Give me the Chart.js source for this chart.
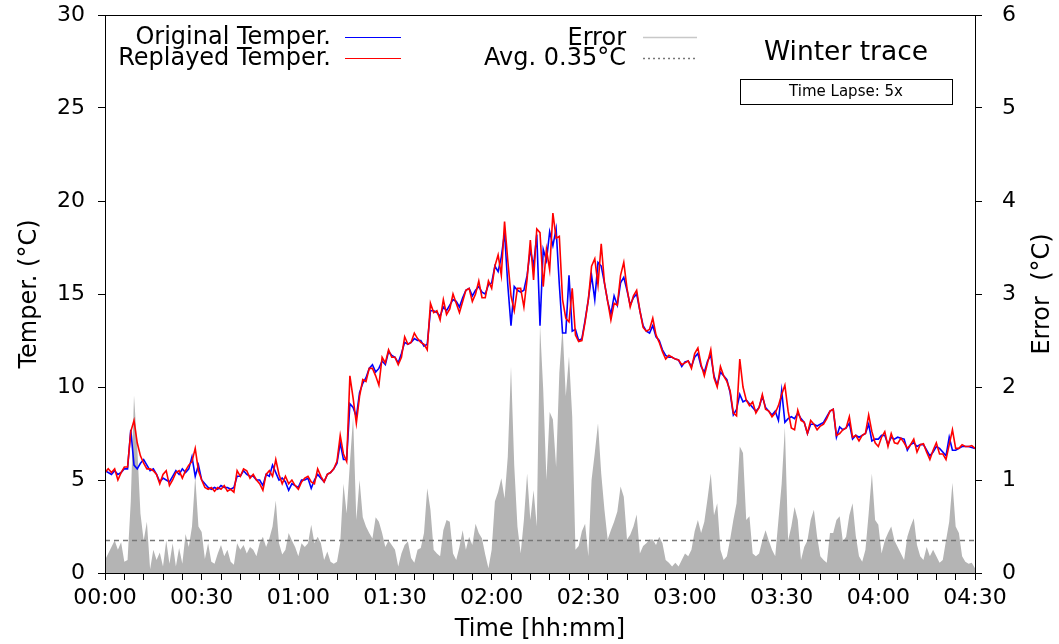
<!DOCTYPE html>
<html>
<head>
<meta charset="utf-8">
<script src="https://cdn.jsdelivr.net/npm/chart.js@4.4.1/dist/chart.umd.min.js"></script>
<style>
  html, body { margin: 0; padding: 0; background: #fff; }
  #chart { display: block; }
</style>
</head>
<body>
<canvas id="chart" width="1059" height="644"></canvas>
<script>
// temperatures, one value per minute from 00:00 to 04:30
const tempStepMin = 1;
const originalTemp = [
    5.5, 5.4, 5.3, 5.5, 5.3, 5.4, 5.6, 5.6, 7.7, 5.8,
    5.6, 5.9, 6.1, 5.8, 5.5, 5.6, 5.3, 4.9, 5.1, 5.0,
    4.9, 5.2, 5.5, 5.3, 5.6, 5.4, 5.6, 6.25, 5.2, 5.8,
    5.0, 4.8, 4.6, 4.5, 4.6, 4.5, 4.7, 4.6, 4.6, 4.5,
    4.6, 5.2, 5.2, 5.5, 5.3, 5.2, 5.2, 5.0, 5.0, 4.7,
    5.3, 5.2, 5.8, 5.4, 5.0, 5.1, 4.9, 4.45, 4.8, 4.7,
    4.6, 5.0, 5.0, 5.1, 4.55, 5.0, 5.3, 5.1, 4.9, 5.3,
    5.4, 5.6, 5.9, 7.0, 6.1, 6.1, 9.1, 8.9, 8.4, 9.7,
    10.2, 10.5, 11.0, 11.2, 10.8, 11.0, 11.4, 11.2, 11.9, 11.7,
    11.6, 11.3, 11.8, 12.4, 12.3, 12.4, 12.6, 12.5, 12.5, 12.2,
    12.3, 14.1, 14.1, 14.0, 13.8, 14.3, 14.1, 14.4, 14.7, 14.6,
    14.3, 14.8, 15.2, 15.3, 14.9, 15.2, 15.4, 15.1, 15.0, 15.5,
    15.6, 16.5, 16.2, 17.0, 18.3, 15.5, 13.3, 15.4, 15.2, 15.1,
    15.2, 16.0, 17.4, 16.5, 18.2, 13.3, 17.4, 16.8, 18.35, 17.6,
    18.5, 15.5, 12.9, 12.9, 16.0, 13.0, 13.1, 12.5, 12.6, 13.6,
    14.7, 16.0, 14.7, 16.7, 16.5, 15.6, 14.6, 13.9, 14.9, 14.4,
    15.6, 15.9, 15.2, 14.4, 14.8, 15.0, 14.1, 13.3, 13.0, 12.9,
    13.3, 12.7, 12.5, 12.0, 11.7, 11.6, 11.6, 11.5, 11.45, 11.1,
    11.35, 11.4, 11.1, 11.6, 11.8, 11.1, 10.8, 11.4, 11.7, 10.6,
    10.1, 10.8, 10.6, 10.4, 9.7, 8.5, 8.8, 9.6, 9.2, 9.3,
    9.1, 8.9, 8.7, 8.9, 9.5, 8.9, 8.7, 8.5, 8.7, 8.2,
    9.8, 8.1, 8.3, 8.4, 8.3, 8.6, 8.3, 8.1, 7.5, 8.0,
    8.0, 7.9, 8.0, 8.1, 8.4, 8.7, 8.8, 7.3, 7.85, 7.7,
    7.8, 8.05, 7.2, 7.4, 7.3, 7.4, 7.5, 8.0, 7.1, 7.2,
    7.2, 7.4, 7.4, 6.9, 7.3, 7.2, 7.3, 7.25, 7.2, 6.6,
    6.9, 7.0, 6.8, 6.9, 6.9, 6.6, 6.3, 6.5, 6.8, 6.7,
    6.5, 6.3, 7.3, 6.6, 6.6, 6.7, 6.8, 6.8, 6.8, 6.75,
    6.7
];
const replayedTemp = [
    5.4, 5.6, 5.4, 5.6, 5.0, 5.4, 5.7, 5.7, 7.6, 8.2,
    7.0, 6.3, 5.9, 5.6, 5.6, 5.5, 5.3, 4.8, 5.3, 5.5,
    4.7, 5.0, 5.4, 5.5, 5.1, 5.5, 5.8, 6.0, 6.7, 5.5,
    5.0, 4.6, 4.5, 4.6, 4.4, 4.6, 4.5, 4.7, 4.4, 4.5,
    4.35, 5.5, 5.2, 5.6, 5.5, 5.1, 5.3, 5.0, 4.8, 4.45,
    5.3, 5.5, 5.2, 6.1, 5.3, 4.8, 5.2, 4.8, 5.0, 4.7,
    4.5, 4.9, 5.1, 5.2, 4.9, 4.8, 5.6, 5.2, 4.9, 5.3,
    5.4, 5.6, 6.0, 7.4, 6.4, 6.0, 10.6, 9.4, 8.05, 9.5,
    10.4, 10.3, 11.0, 11.0, 10.6, 10.1, 11.6, 11.3, 12.0, 11.6,
    11.6, 11.2, 11.6, 12.7, 12.3, 12.4, 12.9, 12.6, 12.4, 12.3,
    12.0, 14.5, 14.0, 14.1, 13.6, 14.7, 13.9, 14.2, 15.0, 14.5,
    14.0, 14.6, 15.2, 15.3, 14.6, 15.0, 15.7, 14.8, 14.8, 15.7,
    15.3, 16.5, 17.1, 16.0, 18.9, 16.8, 14.9, 14.1, 15.3, 15.3,
    14.3, 15.8, 17.9, 15.75, 18.5, 18.3, 15.4, 17.4, 16.3, 19.35,
    18.0, 18.1, 14.7, 13.7, 13.5, 15.3, 12.8, 12.45, 12.5, 13.5,
    14.7, 16.5, 16.9, 15.5, 17.7, 15.6, 14.6, 13.6, 14.5, 14.4,
    16.0, 16.7, 15.3, 14.3, 14.9, 15.2, 14.1, 13.2, 13.0, 13.1,
    13.7, 12.8, 12.4, 11.9, 11.5, 11.7, 11.6, 11.5, 11.45, 11.2,
    11.3, 11.4, 11.0, 11.8, 12.1, 11.2, 10.6, 11.3, 12.0, 10.5,
    10.0, 11.1, 10.6, 10.3, 9.8, 8.6, 8.45, 11.5, 10.0, 9.3,
    9.0, 9.2, 8.6, 8.9, 9.6, 8.8, 8.7, 8.4, 8.6, 9.0,
    9.6, 10.1, 8.7, 7.8, 7.7, 8.75, 8.2, 8.1, 7.5, 8.2,
    8.0, 7.7, 7.9, 8.0, 8.3, 8.7, 8.8, 7.4, 7.5, 7.7,
    7.8, 8.4, 7.3, 7.4, 7.1, 7.4, 7.5, 8.5, 7.6, 7.0,
    6.8, 7.3, 7.6, 6.8, 7.5, 7.0, 6.95, 7.25, 7.0, 6.7,
    6.9, 7.2, 6.5, 6.9, 6.95, 6.5, 6.1, 6.6, 7.0, 6.4,
    6.4, 6.1, 6.9, 7.7, 6.7, 6.7, 6.9, 6.8, 6.8, 6.85,
    6.7
];
// error, one value per minute
const errorStepMin = 1;
const errorValues = [
    0.14, 0.21, 0.28, 0.35, 0.25, 0.33, 0.12, 0.14, 0.77, 1.91,
    1.36, 0.64, 0.35, 0.55, 0.04, 0.25, 0.14, 0.22, 0.07, 0.35,
    0.10, 0.32, 0.07, 0.27, 0.10, 0.42, 0.28, 0.50, 1.04, 0.50,
    0.44, 0.15, 0.32, 0.12, 0.10, 0.21, 0.30, 0.18, 0.25, 0.12,
    0.09, 0.32, 0.25, 0.30, 0.21, 0.28, 0.25, 0.18, 0.32, 0.39,
    0.28, 0.37, 0.50, 0.78, 0.32, 0.20, 0.25, 0.43, 0.35, 0.28,
    0.18, 0.32, 0.28, 0.32, 0.52, 0.32, 0.39, 0.32, 0.14, 0.23,
    0.12, 0.10, 0.12, 0.32, 0.96, 0.64, 1.18, 1.68, 0.57, 1.00,
    0.60, 0.50, 0.43, 0.37, 0.60, 0.55, 0.43, 0.28, 0.35, 0.30,
    0.25, 0.07, 0.21, 0.30, 0.34, 0.16, 0.11, 0.25, 0.27, 0.43,
    0.91, 0.68, 0.25, 0.21, 0.18, 0.46, 0.57, 0.55, 0.21, 0.14,
    0.28, 0.46, 0.25, 0.39, 0.30, 0.53, 0.43, 0.37, 0.20, 0.05,
    0.25, 0.77, 0.87, 1.02, 0.80, 1.25, 2.22, 1.16, 0.50, 0.21,
    0.57, 1.07, 0.57, 0.89, 0.50, 2.67, 1.97, 1.00, 1.73, 1.65,
    1.14, 2.15, 2.65, 1.90, 2.33, 1.68, 0.25, 0.29, 0.45, 0.53,
    0.18, 1.00, 1.29, 1.61, 1.07, 0.68, 0.36, 0.46, 0.55, 0.66,
    0.93, 0.82, 0.36, 0.41, 0.50, 0.63, 0.21, 0.29, 0.32, 0.36,
    0.36, 0.30, 0.39, 0.32, 0.14, 0.11, 0.07, 0.11, 0.07, 0.14,
    0.21, 0.18, 0.25, 0.45, 0.57, 0.43, 0.55, 0.80, 1.07, 0.62,
    0.75, 0.25, 0.14, 0.18, 0.36, 0.57, 0.75, 1.36, 1.29, 0.57,
    0.61, 0.21, 0.18, 0.21, 0.35, 0.46, 0.35, 0.25, 0.18, 0.57,
    0.96, 1.57, 0.35, 0.50, 0.71, 0.57, 0.14, 0.28, 0.35, 0.57,
    0.68, 0.39, 0.18, 0.14, 0.11, 0.43, 0.43, 0.57, 0.61, 0.34,
    0.39, 0.62, 0.75, 0.40, 0.18, 0.12, 0.25, 0.64, 1.07, 0.57,
    0.52, 0.21, 0.35, 0.43, 0.50, 0.35, 0.28, 0.21, 0.14, 0.39,
    0.50, 0.59, 0.30, 0.18, 0.14, 0.28, 0.18, 0.25, 0.18, 0.11,
    0.14, 0.35, 0.55, 0.97, 0.50, 0.43, 0.18, 0.12, 0.10, 0.11,
    0.05
];
const avgError = 0.35;
const timeRange = [0, 270];
const timeLabelEvery = 30;

const toPoints = (vals, step) => vals.map((v, i) => ({ x: i * step, y: v }));

const hhmm = m => String(Math.floor(m / 60)).padStart(2, '0') + ':' + String(m % 60).padStart(2, '0');

Chart.defaults.font.family = 'DejaVu Sans';
Chart.defaults.color = '#000';

const frameAndLegend = {
    id: 'frameAndLegend',
    afterDatasetsDraw(chart) {
        const { ctx, chartArea: a } = chart;
        ctx.save();
        ctx.strokeStyle = '#000';
        ctx.lineWidth = 1;
        ctx.strokeRect(Math.round(a.left) + 0.5, Math.round(a.top) + 0.5,
            Math.round(a.right - a.left), Math.round(a.bottom - a.top));
        ctx.restore();
    },
    afterDraw(chart) {
        const ctx = chart.ctx;
        const a = chart.chartArea;
        ctx.save();
        ctx.fillStyle = '#000';

        // right axis title, reading bottom to top like the left one
        ctx.save();
        ctx.translate(1043, (a.top + a.bottom) / 2);
        ctx.rotate(-Math.PI / 2);
        ctx.font = '24px "DejaVu Sans"';
        ctx.textAlign = 'center';
        ctx.textBaseline = 'middle';
        ctx.fillText('Error  (°C)', 0, 0);
        ctx.restore();

        ctx.font = '24px "DejaVu Sans"';
        ctx.textAlign = 'right';
        ctx.textBaseline = 'middle';
        const line = (x1, x2, y, color, dash, w) => {
            ctx.beginPath();
            ctx.setLineDash(dash);
            ctx.strokeStyle = color;
            ctx.lineWidth = w;
            ctx.moveTo(x1, y);
            ctx.lineTo(x2, y);
            ctx.stroke();
            ctx.setLineDash([]);
        };
        ctx.fillText('Original Temper.', 331, 38);
        line(345, 401, 37.5, '#0000ff', [], 1.2);
        ctx.fillText('Replayed Temper.', 331, 59);
        line(345, 401, 58.5, '#ff0000', [], 1.2);
        ctx.fillText('Error', 626, 39);
        line(643, 697, 37.5, '#c8c8c8', [], 1.5);
        ctx.fillText('Avg. ' + avgError + '°C', 626, 59);
        line(643, 697, 58.5, '#777777', [2, 3], 1.5);

        ctx.textAlign = 'center';
        ctx.font = '26.5px "DejaVu Sans"';
        ctx.fillText('Winter trace', 846, 53);
        ctx.strokeStyle = '#000';
        ctx.lineWidth = 1;
        ctx.strokeRect(740.5, 79.5, 212, 25);
        ctx.font = '15px "DejaVu Sans"';
        ctx.fillText('Time Lapse: 5x', 846, 92.5);
        ctx.restore();
    }
};

const axisCommon = {
    grid: { drawOnChartArea: false, drawTicks: true, tickLength: 7, tickColor: '#000', tickWidth: 1 },
    border: { display: true, color: '#000', width: 1 }
};

const noPad = s => { s.paddingTop = 0; s.paddingBottom = 0; s.paddingLeft = 0; s.paddingRight = 0; };

new Chart(document.getElementById('chart').getContext('2d'), {
    type: 'line',
    data: {
        datasets: [
            {
                label: 'Replayed Temper.',
                data: toPoints(replayedTemp, tempStepMin),
                yAxisID: 'y',
                borderColor: '#ff0000',
                borderWidth: 1.6,
                pointRadius: 0,
                fill: false,
                order: 0
            },
            {
                label: 'Original Temper.',
                data: toPoints(originalTemp, tempStepMin),
                yAxisID: 'y',
                borderColor: '#0000ff',
                borderWidth: 1.6,
                pointRadius: 0,
                fill: false,
                order: 1
            },
            {
                label: 'Avg.',
                data: timeRange.map(t => ({ x: t, y: avgError })),
                yAxisID: 'y2',
                borderColor: '#777777',
                borderWidth: 1.5,
                borderDash: [5, 4],
                pointRadius: 0,
                fill: false,
                order: 2
            },
            {
                label: 'Error',
                data: toPoints(errorValues, errorStepMin),
                yAxisID: 'y2',
                borderColor: 'rgba(0,0,0,0)',
                borderWidth: 0,
                backgroundColor: '#b4b4b4',
                pointRadius: 0,
                fill: 'origin',
                order: 3
            }
        ]
    },
    options: {
        responsive: false,
        animation: false,
        events: [],
        layout: { padding: { top: 15, left: 0, right: 0, bottom: 0 } },
        plugins: { legend: { display: false }, tooltip: { enabled: false } },
        scales: {
            x: {
                ...axisCommon,
                type: 'linear',
                min: timeRange[0],
                max: timeRange[1],
                ticks: {
                    stepSize: 6,
                    autoSkip: false,
                    maxRotation: 0,
                    font: { size: 22 },
                    padding: 5,
                    callback: v => (v % timeLabelEvery === 0 ? hhmm(v) : '')
                },
                title: { display: true, text: 'Time [hh:mm]', font: { size: 24 }, padding: { top: 0, bottom: 0 } },
                afterFit: s => { noPad(s); s.height = 71; }
            },
            y: {
                ...axisCommon,
                position: 'left',
                min: 0,
                max: 30,
                ticks: { stepSize: 5, font: { size: 22 }, padding: 13 },
                title: { display: true, text: 'Temper. (°C)', font: { size: 24 }, padding: { top: 15, bottom: 0 } },
                afterFit: s => { noPad(s); s.width = 105; }
            },
            y2: {
                ...axisCommon,
                position: 'right',
                min: 0,
                max: 6,
                ticks: { stepSize: 1, font: { size: 22 }, padding: 20 },
                title: { display: false },
                afterFit: s => { noPad(s); s.width = 84; }
            }
        }
    },
    plugins: [frameAndLegend]
});
</script>
</body>
</html>
